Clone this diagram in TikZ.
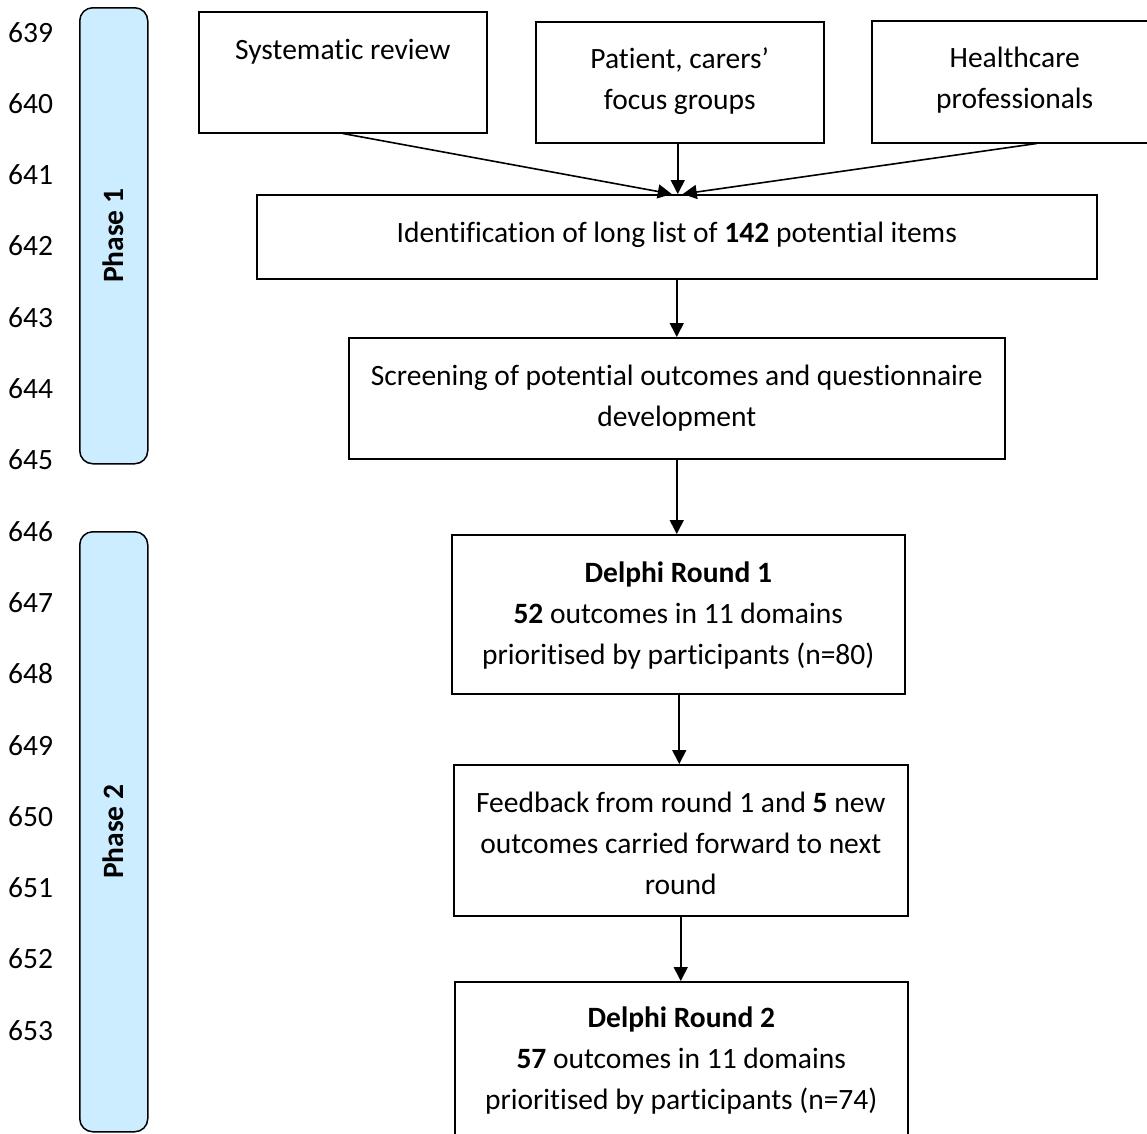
\documentclass[tikz,border=0pt]{standalone}
\usepackage{fontspec}
\setmainfont{Carlito}[Ligatures={NoCommon,NoRequired}]
\usetikzlibrary{arrows.meta}
\definecolor{phaseblue}{RGB}{204,236,255}
\begin{document}
\begin{tikzpicture}[x=1pt,y=-1pt,
  box/.style={draw=black, line width=1.5pt, rectangle, inner sep=0pt, anchor=north west},
  txt/.style={anchor=base, align=center, inner sep=0pt, font=\fontsize{29.5}{41}\selectfont},
  lnum/.style={anchor=base west, inner sep=0pt, font=\fontsize{29.5}{41}\selectfont},
  phasebar/.style={draw=black, line width=1.5pt, fill=phaseblue, rounded corners=13pt, inner sep=0pt, anchor=north west, minimum width=68pt},
  phasetxt/.style={rotate=90, inner sep=0pt, font=\fontsize{29.5}{41}\selectfont\bfseries},
  arr/.style={line width=1.6pt, -{Triangle[length=14pt,width=14pt]}},
]
\useasboundingbox (0,0) rectangle (1147,1133);
\clip (0,0) rectangle (1147,1133);

% line numbers
\foreach \i in {0,...,14}{
  \pgfmathtruncatemacro{\num}{639+\i}
  \node[lnum] (ln\i) at (8,{42+71.3*\i}) {\num};
}

% phase bars
\node[phasebar, minimum height=456pt] (ph1) at (79,7) {};
\node[phasetxt] (ph1t) at (ph1.center) {Phase 1};
\node[phasebar, minimum height=600pt] (ph2) at (79,531) {};
\node[phasetxt] (ph2t) at (ph2.center) {Phase 2};

% boxes (text anchored at the baseline of its last line)
\node[box, minimum width=288pt, minimum height=121pt] (sys) at (198,11) {};
\node[txt] (syst) at ([yshift=-48pt]sys.north) {Systematic review};

\node[box, minimum width=288pt, minimum height=121pt] (pat) at (535,21) {};
\node[txt] (patt) at ([yshift=-88pt]pat.north) {Patient, carers’\\focus groups};

\node[box, minimum width=310pt, minimum height=122pt] (hc) at (871,20) {};
\node[txt] (hct) at ([xshift=-12pt,yshift=-88pt]hc.north) {Healthcare\\professionals};

\node[box, minimum width=840pt, minimum height=84pt] (ident) at (256,194) {};
\node[txt] (identt) at ([yshift=-48pt]ident.north) {Identification of long list of \textbf{142} potential items};

\node[box, minimum width=656pt, minimum height=121pt] (scr) at (348,337) {};
\node[txt] (scrt) at ([yshift=-89pt]scr.north) {Screening of potential outcomes and questionnaire\\development};

\node[box, minimum width=453pt, minimum height=159pt] (d1) at (451,534) {};
\node[txt] (d1t) at ([yshift=-130pt]d1.north) {\textbf{Delphi Round 1}\\\textbf{52} outcomes in 11 domains\\prioritised by participants (n=80)};

\node[box, minimum width=454pt, minimum height=151pt] (fb) at (453,764) {};
\node[txt] (fbt) at ([yshift=-130pt]fb.north) {Feedback from round 1 and \textbf{5} new\\outcomes carried forward to next\\round};

\node[box, minimum width=453pt, minimum height=170pt] (d2) at (454,981) {};
\node[txt] (d2t) at ([yshift=-128pt]d2.north) {\textbf{Delphi Round 2}\\\textbf{57} outcomes in 11 domains\\prioritised by participants (n=74)};

% connectors
\draw[arr] (sys.south) -- ([xshift=-5pt]ident.north);
\draw[arr] ([xshift=-2pt]pat.south) -- ([xshift=-2pt]pat.south |- ident.north);
\draw[arr] ([xshift=10pt]hc.south) -- ([xshift=6pt]ident.north);
\draw[arr] (ident.south) -- (ident.south |- scr.north);
\draw[arr] (scr.south) -- (scr.south |- d1.north);
\draw[arr] ([xshift=1pt]d1.south) -- ([xshift=1pt]d1.south |- fb.north);
\draw[arr] (fb.south) -- (fb.south |- d2.north);
\end{tikzpicture}
\end{document}
